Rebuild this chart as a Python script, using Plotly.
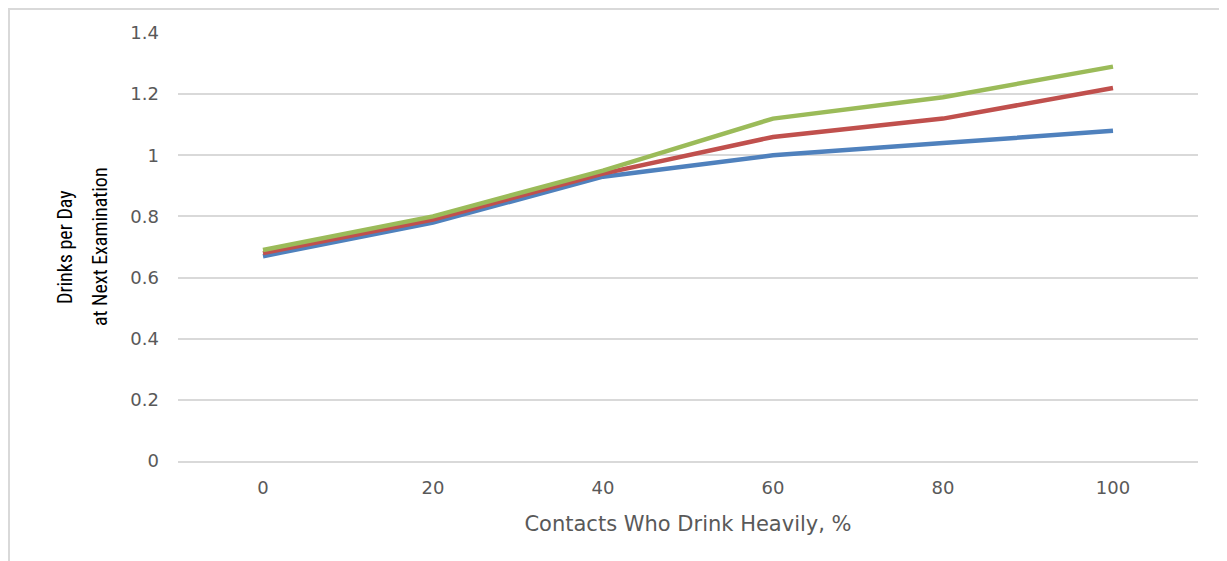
import plotly.graph_objects as go

categories = ["0", "20", "40", "60", "80", "100"]
blue_vals = [0.67, 0.78, 0.93, 1.00, 1.04, 1.08]
red_vals = [0.68, 0.79, 0.94, 1.06, 1.12, 1.22]
green_vals = [0.69, 0.80, 0.95, 1.12, 1.19, 1.29]
y_ticks = [0, 0.2, 0.4, 0.6, 0.8, 1, 1.2, 1.4]
y_tick_text = ["0", "0.2", "0.4", "0.6", "0.8", "1", "1.2", "1.4"]

fig = go.Figure()
for vals, col in [(blue_vals, "#4F81BD"), (red_vals, "#C0504D"), (green_vals, "#9BBB59")]:
    fig.add_trace(go.Scatter(x=categories, y=vals, mode="lines",
                             line=dict(color=col, width=4.5), showlegend=False))

narrow = "Liberation Sans Narrow, Roboto Condensed, Roboto"
fig.update_layout(
    width=1219, height=553,
    margin=dict(l=170, r=29, t=25, b=100),
    paper_bgcolor="white", plot_bgcolor="white",
    font=dict(family="DejaVu Sans, Verdana", color="#595959", size=18),
    xaxis=dict(type="category", range=[-0.5, 5.5], showgrid=False,
               showline=True, linecolor="#D9D9D9", linewidth=2,
               zeroline=False, ticks="", ticklabelstandoff=9,
               title=dict(text="Contacts Who Drink Heavily, %", font=dict(size=21, color="#595959"),
                          standoff=20)),
    yaxis=dict(range=[0, 1.4], tickvals=y_ticks, ticktext=y_tick_text,
               showgrid=True, gridcolor="#D9D9D9", gridwidth=2, zeroline=False,
               showline=False, ticks="", ticklabelstandoff=18),
    shapes=[dict(type="rect", xref="paper", yref="paper",
                 x0=(1 - 170) / 1020, x1=1.2, y0=-0.5, y1=1 + 24 / 428,
                 line=dict(color="#D9D9D9", width=2), layer="below")],
    annotations=[
        dict(text="Drinks per Day", xref="paper", yref="paper", x=(57 - 170) / 1020, y=0.5,
             textangle=-90, showarrow=False, xanchor="center", yanchor="middle",
             font=dict(family=narrow, size=20, color="#000000")),
        dict(text="at Next Examination", xref="paper", yref="paper", x=(92 - 170) / 1020, y=0.5,
             textangle=-90, showarrow=False, xanchor="center", yanchor="middle",
             font=dict(family=narrow, size=20, color="#000000")),
    ],
)

fig.write_html("out.html")
